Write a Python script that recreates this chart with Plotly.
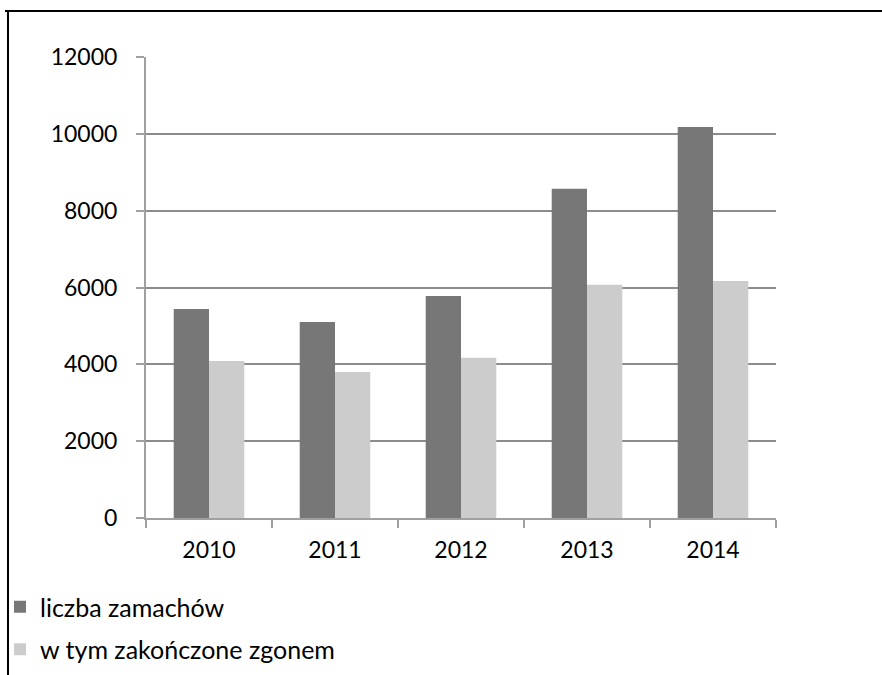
import plotly.graph_objects as go

years = ["2010", "2011", "2012", "2013", "2014"]
attacks = [5440, 5100, 5780, 8570, 10180]
fatal = [4090, 3800, 4170, 6070, 6170]
series_names = ["liczba zamachów", "w tym zakończone zgonem"]
y_ticks = [0, 2000, 4000, 6000, 8000, 10000, 12000]
y_tick_labels = [str(v) for v in y_ticks]

W, H = 882, 675
L, R, T, B = 146, 106, 57, 157
pw, ph = W - L - R, H - T - B

def px(x):
    return (x - L) / pw

def py(y):
    return (H - B - y) / ph

FONT = "Lato"

fig = go.Figure()
fig.add_trace(go.Bar(x=years, y=attacks, name=series_names[0], marker_color="#777777",
                     marker_line_width=0, legendgroup="a"))
fig.add_trace(go.Bar(x=years, y=fatal, name=series_names[1], marker_color="#cccccc",
                     marker_line_width=0, legendgroup="b"))

fig.update_layout(
    width=W, height=H,
    margin=dict(l=L, r=R, t=T, b=B, autoexpand=False),
    paper_bgcolor="white", plot_bgcolor="white",
    barmode="group", bargap=0.44, bargroupgap=0,
    font=dict(family=FONT, size=22, color="#000000"),
    showlegend=True,
    legend=dict(x=px(0), y=py(584), xanchor="left", yanchor="top",
                orientation="v", tracegroupgap=7, font=dict(size=25),
                itemwidth=30, bgcolor="rgba(0,0,0,0)"),
    xaxis=dict(showline=True, linecolor="#a0a0a0", linewidth=2,
               ticks="outside", tickson="boundaries", ticklen=8, tickcolor="#a0a0a0",
               tickwidth=2, showgrid=False, tickfont=dict(size=23), fixedrange=True,
               ticklabelstandoff=10),
    yaxis=dict(range=[0, 12000], tickvals=y_ticks, ticktext=y_tick_labels,
               showline=True, linecolor="#a0a0a0",
               linewidth=2, ticks="outside", ticklen=8, tickcolor="#a0a0a0", tickwidth=2,
               showgrid=True, gridcolor="#8c8c8c", gridwidth=2, zeroline=False,
               tickfont=dict(size=23), ticklabelstandoff=14, fixedrange=True),
    shapes=[
        dict(type="line", xref="paper", yref="paper", x0=px(5), x1=px(882),
             y0=py(11), y1=py(11), line=dict(color="#000000", width=2)),
        dict(type="line", xref="paper", yref="paper", x0=px(8), x1=px(8),
             y0=py(11), y1=py(675), line=dict(color="#000000", width=2)),
    ],
)

fig.write_html("out.html")
